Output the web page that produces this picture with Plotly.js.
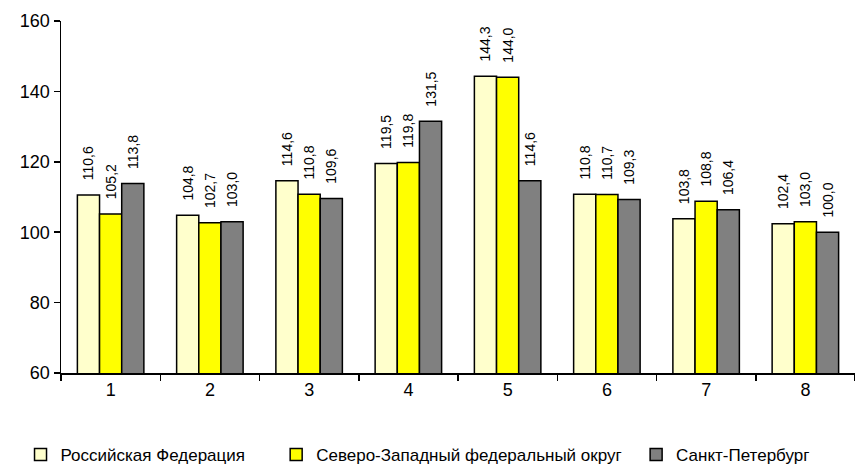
<!DOCTYPE html>
<html>
<head>
<meta charset="utf-8">
<script src="https://cdn.plot.ly/plotly-3.0.1.min.js"></script>
<style>html,body{margin:0;padding:0;background:#fff;}#chart{width:855px;height:469px;}</style>
</head>
<body>
<div id="chart"></div>
<script>
const categories = ['1','2','3','4','5','6','7','8'];
const seriesNames = ['Российская Федерация', 'Северо-Западный федеральный округ', 'Санкт-Петербург'];
const rf  = [110.6, 104.8, 114.6, 119.5, 144.3, 110.8, 103.8, 102.4];
const szfo = [105.2, 102.7, 110.8, 119.8, 144.0, 110.7, 108.8, 103.0];
const spb = [113.8, 103.0, 109.6, 131.5, 114.6, 109.3, 106.4, 100.0];
const yTicks = [60, 80, 100, 120, 140, 160];

const colors = ['#FFFFCC', '#FFFF00', '#808080'];
const legends = ['legend', 'legend2', 'legend3'];
const pad = '\u00A0\u00A0\u00A0';
const fmt = v => pad + v.toFixed(1).replace('.', ',');

const data = [rf, szfo, spb].map((vals, i) => ({
  type: 'bar',
  x: categories,
  y: vals,
  name: seriesNames[i],
  legend: legends[i],
  text: vals.map(fmt),
  textposition: 'outside',
  textangle: -90,
  constraintext: 'none',
  cliponaxis: false,
  textfont: {family: 'Liberation Sans, Arial, sans-serif', size: 14, color: '#000'},
  marker: {color: colors[i], line: {color: '#000', width: 1.5}},
  hoverinfo: 'x+y'
}));

const legFont = {family: 'Liberation Sans, Arial, sans-serif', size: 17, color: '#000'};
const legBase = {orientation: 'h', xref: 'container', yref: 'container', yanchor: 'middle', xanchor: 'left', y: 0.03, font: legFont, bgcolor: 'rgba(0,0,0,0)', itemwidth: 30, tracegroupgap: 0};

const layout = {
  width: 855, height: 469,
  margin: {l: 61, r: 0, t: 21, b: 96},
  paper_bgcolor: '#fff', plot_bgcolor: '#fff',
  barmode: 'group',
  bargap: 0.33,
  bargroupgap: 0,
  showlegend: true,
  font: {family: 'Liberation Sans, Arial, sans-serif', color: '#000'},
  xaxis: {
    type: 'category',
    showline: true, linecolor: '#000', linewidth: 1.5,
    ticks: 'outside', tickson: 'boundaries', ticklen: 6, tickcolor: '#000', tickwidth: 1.5,
    tickfont: {size: 18, color: '#000'},
    showgrid: false, zeroline: false
  },
  yaxis: {
    range: [60, 160],
    tickvals: yTicks,
    showline: true, linecolor: '#000', linewidth: 1.5,
    ticks: 'outside', ticklen: 6, tickcolor: '#000', tickwidth: 1.5,
    tickfont: {size: 18, color: '#000'},
    showgrid: false, zeroline: false
  },
  legend: Object.assign({}, legBase, {x: 0.024}),
  legend2: Object.assign({}, legBase, {x: 0.323}),
  legend3: Object.assign({}, legBase, {x: 0.744})
};

Plotly.newPlot('chart', data, layout, {displayModeBar: false, staticPlot: true});
</script>
</body>
</html>
